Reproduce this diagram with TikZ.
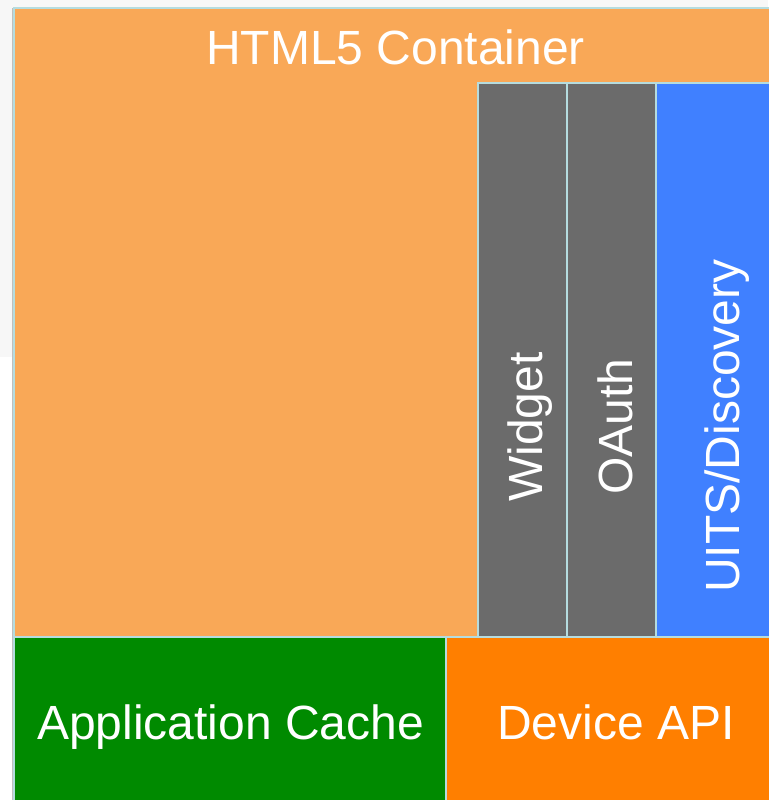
\documentclass[tikz,border=0pt]{standalone}
\usepackage{fontspec}
\setmainfont{Liberation Sans}
\definecolor{bgtop}{HTML}{F7F7F7}
\definecolor{cont}{HTML}{F9A857}
\definecolor{colgray}{HTML}{6B6B6B}
\definecolor{colblue}{HTML}{4080FF}
\definecolor{colgreen}{HTML}{008A00}
\definecolor{colorange}{HTML}{FF7F00}
\definecolor{edge}{HTML}{B5DCDF}
\begin{document}
\begin{tikzpicture}[x=1pt,y=1pt,
  box/.style={draw=edge, line width=1.5pt, inner sep=0pt, outer sep=0pt, anchor=north west},
  lbl/.style={text=white, font=\fontsize{48}{50}\selectfont, inner sep=0pt, anchor=base west},
  vlbl/.style={lbl, rotate=90}]
\useasboundingbox (0,0) rectangle (768,800);
\fill[bgtop] (0,800) rectangle (768,443);
\fill[white] (0,443) rectangle (768,0);
\fill[black!25] (11.5,792) rectangle (13.5,0);
% container
\node[box, fill=cont, minimum width=770pt, minimum height=629pt] (cont) at (14,792) {};
\node[lbl] (contlbl) at (206,735) {HTML5 Container};
% columns
\node[box, fill=colgray, minimum width=89pt, minimum height=560pt] (widget) at (478,717) {};
\node[box, fill=colgray, minimum width=89pt, minimum height=560pt] (oauth) at (567,717) {};
\node[box, fill=colblue, minimum width=130pt, minimum height=560pt] (uits) at (656,717) {};
\node[vlbl] (widgetlbl) at (542,298) {Widget};
\node[vlbl] (oauthlbl) at (632,305) {OAuth};
\node[vlbl] (uitslbl) at (739,207) {UITS/Discovery};
% bottom
\node[box, fill=colgreen, minimum width=432pt, minimum height=180pt] (cache) at (14,163) {};
\node[box, fill=colorange, minimum width=340pt, minimum height=180pt] (device) at (446,163) {};
\node[lbl] (cachelbl) at (37,60) {Application Cache};
\node[lbl] (devicelbl) at (497,60) {Device API};
\end{tikzpicture}
\end{document}
